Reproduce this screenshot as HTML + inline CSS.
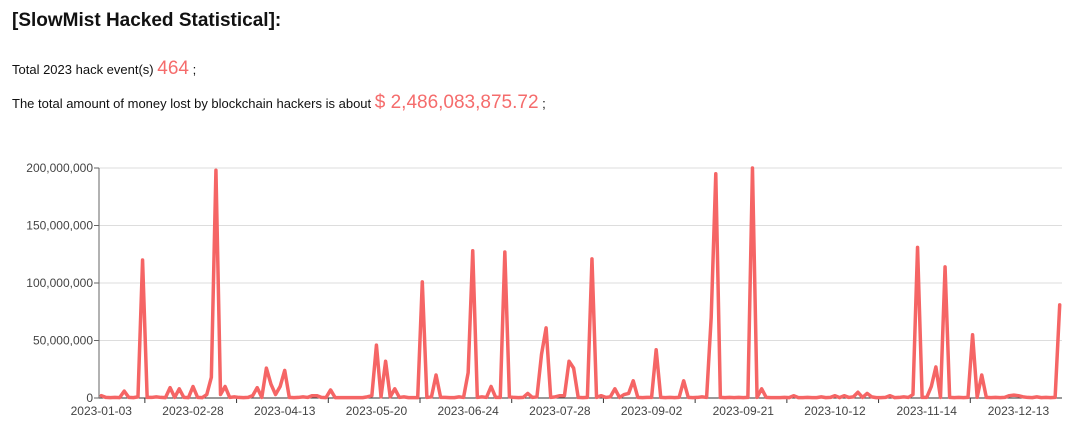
<!DOCTYPE html>
<html><head><meta charset="utf-8"><style>
body{margin:0;width:1080px;height:427px;background:#fff;font-family:"Liberation Sans",sans-serif;overflow:hidden;position:relative}
.t{position:absolute;left:12px;color:#111}
</style></head><body>
<div class="t" style="top:10px;font-size:19px;font-weight:bold">[SlowMist Hacked Statistical]:</div>
<div class="t" style="top:58px;font-size:13px">Total 2023 hack event(s) <span style="color:#f56c6c;font-size:19px">464</span> ;</div>
<div class="t" style="top:92px;font-size:13px">The total amount of money lost by blockchain hackers is about <span style="color:#f56c6c;font-size:19px">$ 2,486,083,875.72</span> ;</div>
<svg id="chart" width="1080" height="427" style="position:absolute;left:0;top:0"></svg>
<script>
const values=[2,0.5,0.3,0.5,0.3,6,0.5,0.3,1,120,
0.5,0.5,1,0.5,0.3,9,0.5,8,0.5,0.3,
10,0.5,0.3,3,18,198,3,10,0.5,1,
0.5,0.3,0.5,2,9,0.5,26,12,3,10,
24,0.5,0.3,0.5,1,0.5,2,2,0.5,0.3,
7,0.3,0.3,0.3,0.3,0.3,0.3,0.3,1,2,
46,1,32,1,8,0.5,1,0.3,0.3,0.3,
101,0.5,1,20,0.5,0.5,0.3,0.3,1,0.5,
22,128,0.5,1,0.5,10,0.5,0.5,127,1,
0.5,0.3,0.5,4,0.5,1,38,61,0.5,1,
2,2,32,26,0.5,0.3,0.5,121,0.5,2,
0.5,1,8,0.5,3,4,15,0.5,0.3,0.5,
0.5,42,0.5,0.3,0.5,0.3,0.5,15,0.5,0.3,
0.5,1,0.5,70,195,0.5,0.3,0.5,0.3,0.5,
0.3,0.5,200,0.5,8,0.5,0.3,0.3,0.3,0.5,
0.3,2,0.3,0.3,0.5,0.3,0.3,1,0.3,0.5,
2,0.3,2,0.5,1,5,0.5,4,1,0.3,
0.3,0.5,2,0.3,0.5,1,0.5,3,131,0.5,
0.5,10,27,0.5,114,0.5,0.3,0.5,0.3,0.5,
55,0.5,20,0.5,0.3,0.5,0.3,0.5,2,2.5,
2,1,0.5,0.3,1,0.3,0.5,0.3,0.5,81];
const tickLabels=["2023-01-03","2023-02-28","2023-04-13","2023-05-20","2023-06-24","2023-07-28","2023-09-02","2023-09-21","2023-10-12","2023-11-14","2023-12-13"];
const yTicks=[0,50,100,150,200];
const yLabels=["0","50,000,000","100,000,000","150,000,000","200,000,000"];
const X0=99,X1=1062,Y0=398,Y1=168,N=values.length,bw=(X1-X0)/N,step=20;
const xs=i=>X0+(i+0.5)*bw, ys=v=>Y0-(v/200)*(Y0-Y1);
const svg=document.getElementById('chart'),NS="http://www.w3.org/2000/svg";
function mk(t,a){const e=document.createElementNS(NS,t);for(const k in a)e.setAttribute(k,a[k]);svg.appendChild(e);return e;}
yTicks.forEach((v,i)=>{
 const g=mk('line',{x1:X0,x2:X1,y1:ys(v),y2:ys(v),stroke:i?'#ddd':'#333','stroke-width':1});
 
 
 const tk=mk('line',{x1:X0-5,x2:X0,y1:ys(v),y2:ys(v),stroke:'#666'});
 
 
 const t=mk('text',{x:X0-6,y:ys(v)+4,'text-anchor':'end','font-size':12,fill:'#444'});
 t.textContent=yLabels[i];
 
 
});
const ya=mk('line',{x1:X0,x2:X0,y1:Y1,y2:Y0,stroke:'#666'});


tickLabels.forEach((l,k)=>{
 const t=mk('text',{x:xs(k*step),y:Y0+17,'text-anchor':'middle','font-size':12,fill:'#444'});
 t.textContent=l;
 
 
 const tx=X0+(k*step+step/2)*bw;
 if(tx<X1){const m=mk('line',{x1:tx,x2:tx,y1:Y0,y2:Y0+5,stroke:'#333'});
 
 }
});
const p=mk('polyline',{points:values.map((v,i)=>xs(i)+','+ys(v)).join(' '),fill:'none',stroke:'#f56565','stroke-width':3.5,'stroke-linejoin':'round','stroke-linecap':'round'});


</script>
</body></html>
